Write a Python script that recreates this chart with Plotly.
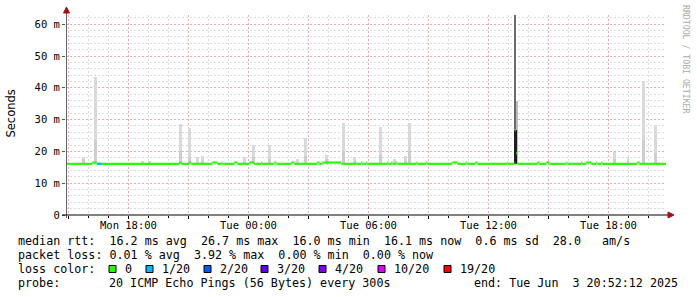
import plotly.graph_objects as go
import pandas as pd

# ---------------- data ----------------
x_start = "2025-06-02 14:52:12"
x_end = "2025-06-03 20:52:12"
median_base = 16.1

# median bumps (start, end, value)
bump_start = ["2025-06-02 16:11", "2025-06-02 20:32", "2025-06-02 21:02", "2025-06-02 22:11",
              "2025-06-02 22:38", "2025-06-02 23:17", "2025-06-03 00:02", "2025-06-03 00:38",
              "2025-06-03 01:17", "2025-06-03 02:08", "2025-06-03 03:26", "2025-06-03 03:41",
              "2025-06-03 05:20", "2025-06-03 05:38", "2025-06-03 05:53", "2025-06-03 06:56",
              "2025-06-03 07:08", "2025-06-03 07:23", "2025-06-03 08:23", "2025-06-03 08:53",
              "2025-06-03 10:11", "2025-06-03 10:53", "2025-06-03 11:20", "2025-06-03 12:56",
              "2025-06-03 13:17", "2025-06-03 13:18", "2025-06-03 13:23", "2025-06-03 14:26",
              "2025-06-03 14:53", "2025-06-03 15:53", "2025-06-03 16:38", "2025-06-03 16:53",
              "2025-06-03 17:23", "2025-06-03 17:38", "2025-06-03 19:26"]
bump_end = ["2025-06-02 16:24", "2025-06-02 20:38", "2025-06-02 21:08", "2025-06-02 22:26",
            "2025-06-02 22:41", "2025-06-02 23:26", "2025-06-03 00:17", "2025-06-03 00:41",
            "2025-06-03 01:23", "2025-06-03 02:17", "2025-06-03 03:32", "2025-06-03 04:38",
            "2025-06-03 05:23", "2025-06-03 05:41", "2025-06-03 05:56", "2025-06-03 06:59",
            "2025-06-03 07:11", "2025-06-03 07:26", "2025-06-03 08:26", "2025-06-03 08:56",
            "2025-06-03 10:26", "2025-06-03 10:56", "2025-06-03 11:26", "2025-06-03 12:59",
            "2025-06-03 13:18", "2025-06-03 13:21", "2025-06-03 13:26", "2025-06-03 14:32",
            "2025-06-03 15:02", "2025-06-03 15:56", "2025-06-03 16:41", "2025-06-03 17:08",
            "2025-06-03 17:26", "2025-06-03 17:41", "2025-06-03 19:32"]
bump_val = [16.5] * 24 + [16.5, 26.7, 19.4] + [16.5] * 8

# loss 1/20 segment
loss1_start = "2025-06-02 16:26"
loss1_end = "2025-06-02 16:38"

# smoke (ping spread): time, max ping, upper-quartile ping
smoke_time = ["2025-06-02 15:44", "2025-06-02 16:20", "2025-06-02 18:41", "2025-06-02 19:03",
              "2025-06-02 20:35", "2025-06-02 21:02", "2025-06-02 21:26", "2025-06-02 21:41",
              "2025-06-02 23:47", "2025-06-03 00:14", "2025-06-03 01:02", "2025-06-03 02:26",
              "2025-06-03 02:50", "2025-06-03 03:53", "2025-06-03 04:44", "2025-06-03 05:17",
              "2025-06-03 06:35", "2025-06-03 07:17", "2025-06-03 07:50", "2025-06-03 08:02",
              "2025-06-03 18:17", "2025-06-03 18:58", "2025-06-03 19:44", "2025-06-03 20:20"]
smoke_max = [18.1, 43.5, 17.0, 16.9, 28.6, 27.5, 18.1, 18.5, 18.1, 21.9, 21.9, 17.6,
             24.1, 18.9, 28.8, 18.1, 27.7, 17.5, 18.7, 29.0, 19.8, 18.1, 42.1, 28.3]
smoke_mid = [17.5, 23.6, 16.6, 16.6, 20.1, 18.0, 16.8, 17.0, 16.8, 18.1, 17.5, 16.8,
             18.5, 17.5, 20.0, 16.8, 19.0, 16.8, 17.0, 20.0, 17.5, 17.0, 23.6, 19.4]

# the loss burst around Tue 13:20 (dense block, max ping, upper spread)
spike_time = ["2025-06-03 13:20", "2025-06-03 13:20", "2025-06-03 13:24"]
spike_max = [26.7, 64.0, 36.0]

loss_labels = ["0", "1/20", "2/20", "3/20", "4/20", "10/20", "19/20"]
loss_colors = ["#26ff00", "#00b8ff", "#0059ff", "#5e00ff", "#7e00ff", "#dd00ff", "#ff0000"]

tick_vals = ["2025-06-02 15:00", "2025-06-02 18:00", "2025-06-02 21:00", "2025-06-03 00:00",
             "2025-06-03 03:00", "2025-06-03 06:00", "2025-06-03 09:00", "2025-06-03 12:00",
             "2025-06-03 15:00", "2025-06-03 18:00"]
tick_text = ["", "Mon 18:00", "", "Tue 00:00", "", "Tue 06:00", "", "Tue 12:00", "", "Tue 18:00"]
y_tick_vals = [0, 10, 20, 30, 40, 50, 60]
y_tick_text = ["0", "10 m", "20 m", "30 m", "40 m", "50 m", "60 m"]

legend_rows = [
    "median rtt:  16.2 ms avg  26.7 ms max  16.0 ms min  16.1 ms now  0.6 ms sd  28.0   am/s",
    "packet loss: 0.01 % avg  3.92 % max  0.00 % min  0.00 % now",
]
probe_text = "20 ICMP Echo Pings (56 Bytes) every 300s"
end_text = "end: Tue Jun  3 20:52:12 2025"

# ---------------- figure ----------------
MONO = "DejaVu Sans Mono"
W, H = 697, 297
L, R, T, B = 66, 666, 15, 215


def pxx(p):
    return (p - L) / (R - L)


def pxy(p):
    return (B - p) / (B - T)


fig = go.Figure()

px_ms = 180000  # ms per pixel
# smoke
fig.add_trace(go.Bar(x=pd.to_datetime(smoke_time), y=[m - median_base for m in smoke_max],
                     base=median_base, width=2.6 * px_ms, marker=dict(color="#d9d9d9", line_width=0),
                     hoverinfo="skip"))
fig.add_trace(go.Bar(x=pd.to_datetime(smoke_time), y=[m - median_base for m in smoke_mid],
                     base=median_base, width=2.6 * px_ms, marker=dict(color="#cdcdcd", line_width=0),
                     hoverinfo="skip"))
spike_cols = ["#1e1e1e", "#6a6a6a", "#bdbdbd"]
spike_w = [3 * px_ms, 1.2 * px_ms, 2.2 * px_ms]
for i in [2, 1, 0]:
    fig.add_trace(go.Bar(x=[pd.Timestamp(spike_time[i])], y=[spike_max[i] - median_base],
                         base=median_base, width=spike_w[i],
                         marker=dict(color=spike_cols[i], line_width=0), hoverinfo="skip"))

# median drawn as horizontal segments (no vertical connectors)
mt, mv = [], []
prev = pd.Timestamp(x_start)
for s, e, v in zip(bump_start, bump_end, bump_val):
    s, e = pd.Timestamp(s), pd.Timestamp(e)
    if s > prev:
        mt += [prev, s, None]
        mv += [median_base, median_base, None]
    mt += [s, e, None]
    mv += [v, v, None]
    prev = e
mt += [prev, pd.Timestamp(x_end)]
mv += [median_base, median_base]
fig.add_trace(go.Scatter(x=mt, y=mv, mode="lines", line=dict(color=loss_colors[0], width=2.2),
                         connectgaps=False, hoverinfo="skip"))
fig.add_trace(go.Scatter(x=[pd.Timestamp(loss1_start), pd.Timestamp(loss1_end)],
                         y=[median_base, median_base], mode="lines",
                         line=dict(color=loss_colors[1], width=2.2), hoverinfo="skip"))

grid_major = "rgba(225,140,140,0.55)"
grid_minor = "rgba(195,195,195,0.6)"

fig.update_layout(
    width=W, height=H, margin=dict(l=L, r=W - R, t=T, b=H - B, autoexpand=False),
    paper_bgcolor="white", plot_bgcolor="white",
    showlegend=False, barmode="overlay", bargap=0,
    font=dict(family=MONO, size=10, color="black"),
    xaxis=dict(
        type="date", range=[x_start, x_end],
        tickmode="array", tickvals=tick_vals, showticklabels=False,
        showgrid=True, gridcolor=grid_major, griddash="2px,2px", gridwidth=1,
        ticks="outside", ticklen=3, tickcolor="black",
        minor=dict(dtick=3600000, tick0="2025-06-02 00:00", showgrid=True, gridcolor=grid_minor,
                   griddash="2px,2px", ticks="outside", ticklen=2, tickcolor="black"),
        zeroline=False, showline=False, fixedrange=True, automargin=False,
    ),
    yaxis=dict(
        range=[0, 62.9], tickmode="array", tickvals=y_tick_vals, ticktext=y_tick_text,
        showgrid=True, gridcolor=grid_major, griddash="2px,2px",
        ticks="outside", ticklen=3, tickcolor="#555",
        tickfont=dict(family=MONO, size=10.5, color="black"),
        minor=dict(dtick=2, showgrid=True, gridcolor=grid_minor, griddash="2px,2px"),
        zeroline=False, showline=False, fixedrange=True, automargin=False,
    ),
)

shapes = []
# y axis line + arrow
shapes.append(dict(type="line", xref="paper", yref="paper", x0=pxx(66.5), x1=pxx(66.5),
                   y0=pxy(218), y1=pxy(11), line=dict(color="#666", width=1)))
shapes.append(dict(type="path", xref="paper", yref="paper",
                   path=f"M {pxx(63.5)},{pxy(13)} L {pxx(69.5)},{pxy(13)} L {pxx(66.5)},{pxy(7)} Z",
                   fillcolor="#a01010", line=dict(color="#a01010", width=1)))
# x axis line + arrow
shapes.append(dict(type="line", xref="paper", yref="paper", x0=pxx(62), x1=pxx(670),
                   y0=pxy(215), y1=pxy(215), line=dict(color="black", width=1)))
shapes.append(dict(type="path", xref="paper", yref="paper",
                   path=f"M {pxx(668)},{pxy(212)} L {pxx(668)},{pxy(218)} L {pxx(674)},{pxy(215)} Z",
                   fillcolor="#a01010", line=dict(color="#a01010", width=1)))

annotations = []
# x tick labels (placed at the tick dates through the x scale)
for tv, tt in zip(tick_vals, tick_text):
    if tt:
        annotations.append(dict(text=tt.replace(" ", "&nbsp;"), x=tv, y=pxy(224.5), xref="x", yref="paper",
                                xanchor="center", yanchor="middle", showarrow=False,
                                font=dict(family=MONO, size=10.5, color="black")))
LF = 11.7
row_y = [241, 255.3, 269, 283.3]
for i, txt in enumerate(legend_rows):
    annotations.append(dict(text=txt.replace(" ", "&nbsp;"), x=pxx(16), y=pxy(row_y[i]),
                            xref="paper", yref="paper", xanchor="left", yanchor="middle",
                            showarrow=False, font=dict(family=MONO, size=LF, color="black")))
annotations.append(dict(text="loss&nbsp;color:", x=pxx(16), y=pxy(row_y[2]), xref="paper", yref="paper",
                        xanchor="left", yanchor="middle", showarrow=False,
                        font=dict(family=MONO, size=LF, color="black")))
box_x = [109, 146, 204, 261, 319, 378, 444]
for bx, lab, col in zip(box_x, loss_labels, loss_colors):
    shapes.append(dict(type="rect", xref="paper", yref="paper", x0=pxx(bx), x1=pxx(bx + 7),
                       y0=pxy(272.5), y1=pxy(265.5), fillcolor=col, line=dict(color="black", width=1)))
    annotations.append(dict(text=lab, x=pxx(bx + 13.5), y=pxy(row_y[2]), xref="paper", yref="paper",
                            xanchor="left", yanchor="middle", showarrow=False,
                            font=dict(family=MONO, size=LF, color="black")))
annotations.append(dict(text="probe:", x=pxx(16), y=pxy(row_y[3]), xref="paper", yref="paper",
                        xanchor="left", yanchor="middle", showarrow=False,
                        font=dict(family=MONO, size=LF, color="black")))
annotations.append(dict(text=probe_text.replace(" ", "&nbsp;"), x=pxx(107), y=pxy(row_y[3]),
                        xref="paper", yref="paper", xanchor="left", yanchor="middle", showarrow=False,
                        font=dict(family=MONO, size=LF, color="black")))
annotations.append(dict(text=end_text.replace(" ", "&nbsp;"), x=pxx(680), y=pxy(row_y[3]),
                        xref="paper", yref="paper", xanchor="right", yanchor="middle", showarrow=False,
                        font=dict(family=MONO, size=LF, color="black")))
# y-axis title
annotations.append(dict(text="Seconds", x=pxx(10.5), y=pxy(114), xref="paper", yref="paper",
                        xanchor="center", yanchor="middle", textangle=-90, showarrow=False,
                        font=dict(family="DejaVu Sans", size=11.5, color="black")))
# watermark
annotations.append(dict(text="RRDTOOL / TOBI OETIKER", x=pxx(686), y=pxy(59), xref="paper", yref="paper",
                        xanchor="center", yanchor="middle", textangle=90, showarrow=False,
                        font=dict(family=MONO, size=8.2, color="#aaaaaa")))

fig.update_layout(shapes=shapes, annotations=annotations)
fig.write_html("out.html")
